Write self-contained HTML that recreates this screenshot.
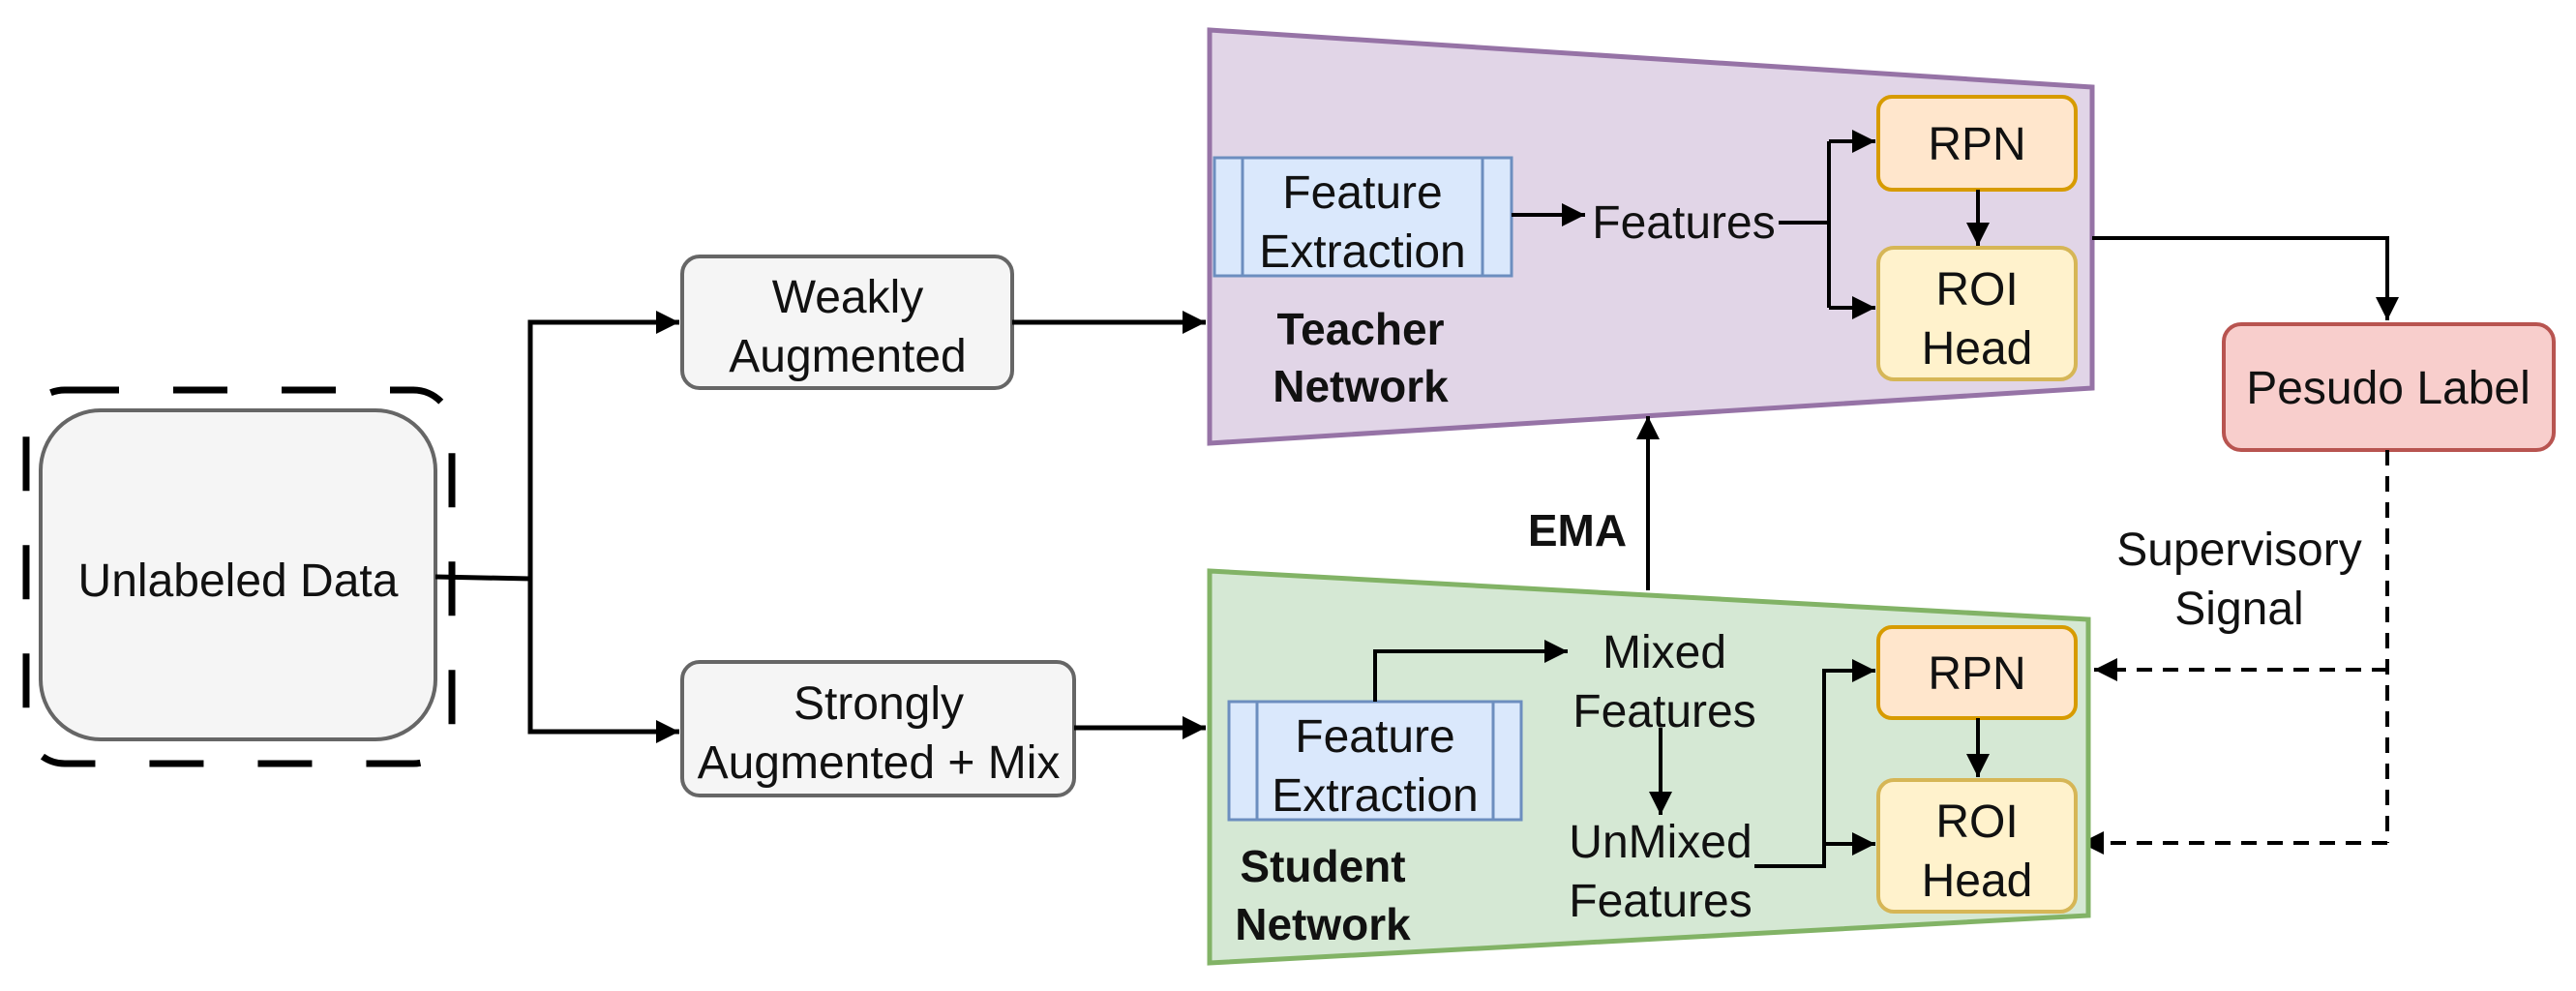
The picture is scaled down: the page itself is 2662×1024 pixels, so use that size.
<!DOCTYPE html>
<html><head><meta charset="utf-8"><style>
html,body{margin:0;padding:0;background:#fff;}
svg{display:block;}
text{font-family:"Liberation Sans",Arial,sans-serif;font-size:48px;fill:#111;text-anchor:middle;}
.b{font-weight:bold;font-size:46px;}
</style></head><body>
<svg width="2662" height="1024" viewBox="0 0 2662 1024" xmlns="http://www.w3.org/2000/svg">
<defs>
<marker id="ar" viewBox="0 0 10 10" refX="10" refY="5" markerWidth="24" markerHeight="24" markerUnits="userSpaceOnUse" orient="auto"><path d="M0,0 L10,5 L0,10 z" fill="#000"/></marker>
</defs>
<rect x="27" y="403" width="440" height="386" rx="40" fill="none" stroke="#000" stroke-width="7" stroke-dasharray="56,56"/>
<rect x="42" y="424" width="408" height="340" rx="62" fill="#f5f5f5" stroke="#666" stroke-width="4"/>
<text x="246" y="616">Unlabeled Data</text>
<path d="M450,596 L548,598 L548,333 L702,333" fill="none" stroke="#000" stroke-width="5" marker-end="url(#ar)"/>
<path d="M548,598 L548,756 L702,756" fill="none" stroke="#000" stroke-width="5" marker-end="url(#ar)"/>
<rect x="705" y="265" width="341" height="136" rx="18" fill="#f5f5f5" stroke="#666" stroke-width="4"/>
<text x="876" y="323">Weakly</text><text x="876" y="384">Augmented</text>
<rect x="705" y="684" width="405" height="138" rx="18" fill="#f5f5f5" stroke="#666" stroke-width="4"/>
<text x="908" y="743">Strongly</text><text x="908" y="804">Augmented + Mix</text>
<path d="M1046,333 L1246,333" stroke="#000" stroke-width="5" marker-end="url(#ar)"/>
<path d="M1110,752 L1246,752" stroke="#000" stroke-width="5" marker-end="url(#ar)"/>
<polygon points="1250,31 2162,90 2162,401 1250,458" fill="#e1d5e7" stroke="#9673a6" stroke-width="5"/>
<rect x="1255" y="163" width="307" height="122" fill="#dae8fc" stroke="#6c8ebf" stroke-width="3"/>
<line x1="1284" y1="163" x2="1284" y2="285" stroke="#6c8ebf" stroke-width="3"/>
<line x1="1532" y1="163" x2="1532" y2="285" stroke="#6c8ebf" stroke-width="3"/>
<text x="1408" y="215">Feature</text><text x="1408" y="276">Extraction</text>
<text class="b" x="1406" y="356">Teacher</text><text class="b" x="1406" y="415">Network</text>
<path d="M1562,222 L1638,222" stroke="#000" stroke-width="4" marker-end="url(#ar)"/>
<text x="1740" y="246">Features</text>
<path d="M1838,230 L1890,230" stroke="#000" stroke-width="4" fill="none"/>
<path d="M1890,146 L1890,318" stroke="#000" stroke-width="4" fill="none"/>
<path d="M1890,146 L1938,146" stroke="#000" stroke-width="4" marker-end="url(#ar)"/>
<path d="M1890,318 L1938,318" stroke="#000" stroke-width="4" marker-end="url(#ar)"/>
<rect x="1941" y="100" width="204" height="96" rx="14" fill="#ffe6cc" stroke="#d79b00" stroke-width="4"/>
<text x="2043" y="165">RPN</text>
<path d="M2044,196 L2044,254" stroke="#000" stroke-width="4" marker-end="url(#ar)"/>
<rect x="1941" y="256" width="204" height="136" rx="16" fill="#fff2cc" stroke="#d6b656" stroke-width="4"/>
<text x="2043" y="315">ROI</text><text x="2043" y="376">Head</text>
<path d="M2162,246 L2467,246 L2467,331" fill="none" stroke="#000" stroke-width="4" marker-end="url(#ar)"/>
<rect x="2298" y="335" width="341" height="130" rx="18" fill="#f8cecc" stroke="#b85450" stroke-width="4"/>
<text x="2468" y="417">Pesudo Label</text>
<path d="M2467,465 L2467,871" fill="none" stroke="#000" stroke-width="4" stroke-dasharray="16,11"/>
<path d="M2467,692 L2164,692" fill="none" stroke="#000" stroke-width="4" stroke-dasharray="16,11" marker-end="url(#ar)"/>
<path d="M2467,871 L2150,871" fill="none" stroke="#000" stroke-width="4" stroke-dasharray="16,11" marker-end="url(#ar)"/>
<text x="2314" y="584">Supervisory</text><text x="2314" y="645">Signal</text>
<path d="M1703,610 L1703,430" stroke="#000" stroke-width="4" marker-end="url(#ar)"/>
<text class="b" x="1630" y="564">EMA</text>
<polygon points="1250,590 2158,640 2158,946 1250,995" fill="#d5e8d4" stroke="#82b366" stroke-width="5"/>
<rect x="1270" y="725" width="302" height="122" fill="#dae8fc" stroke="#6c8ebf" stroke-width="3"/>
<line x1="1299" y1="725" x2="1299" y2="847" stroke="#6c8ebf" stroke-width="3"/>
<line x1="1543" y1="725" x2="1543" y2="847" stroke="#6c8ebf" stroke-width="3"/>
<text x="1421" y="777">Feature</text><text x="1421" y="838">Extraction</text>
<text class="b" x="1367" y="911">Student</text><text class="b" x="1367" y="971">Network</text>
<path d="M1421,725 L1421,673 L1620,673" fill="none" stroke="#000" stroke-width="4" marker-end="url(#ar)"/>
<text x="1720" y="690">Mixed</text><text x="1720" y="751">Features</text>
<path d="M1716,752 L1716,842" stroke="#000" stroke-width="4" marker-end="url(#ar)"/>
<text x="1716" y="886">UnMixed</text><text x="1716" y="947">Features</text>
<path d="M1813,895 L1885,895 L1885,693 L1938,693" fill="none" stroke="#000" stroke-width="4" marker-end="url(#ar)"/>
<path d="M1885,872 L1938,872" stroke="#000" stroke-width="4" marker-end="url(#ar)"/>
<rect x="1941" y="648" width="204" height="94" rx="14" fill="#ffe6cc" stroke="#d79b00" stroke-width="4"/>
<text x="2043" y="712">RPN</text>
<path d="M2044,742 L2044,803" stroke="#000" stroke-width="4" marker-end="url(#ar)"/>
<rect x="1941" y="806" width="204" height="136" rx="16" fill="#fff2cc" stroke="#d6b656" stroke-width="4"/>
<text x="2043" y="865">ROI</text><text x="2043" y="926">Head</text>
</svg>
</body></html>
